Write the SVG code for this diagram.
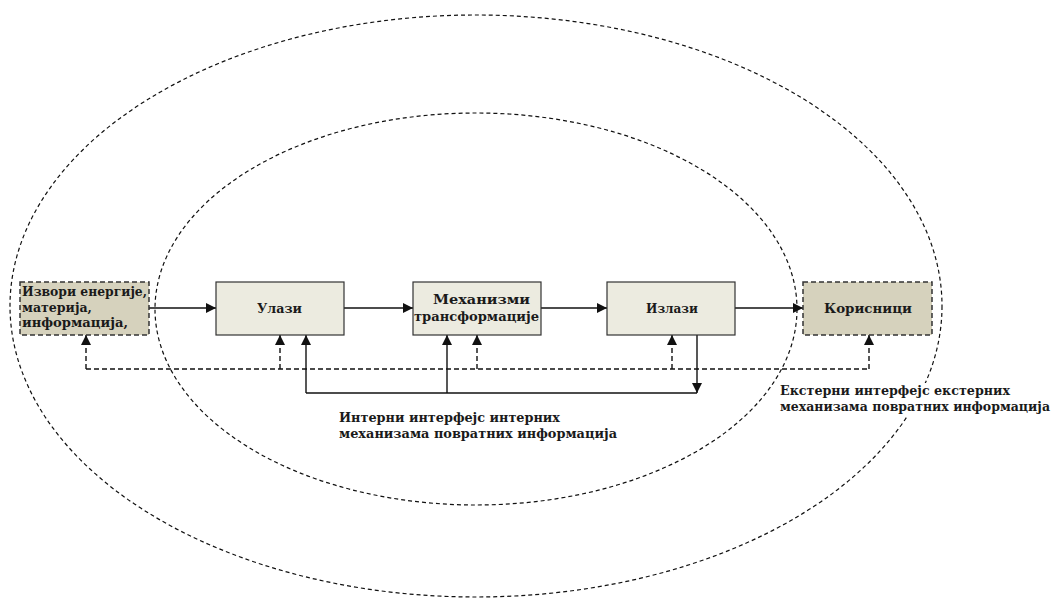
<svg xmlns="http://www.w3.org/2000/svg" width="1058" height="599" viewBox="0 0 1058 599">
  <style>
    .ring { fill: none; stroke: #111; stroke-width: 1.2; stroke-dasharray: 4 3; }
    .box { fill: #ecebe0; stroke: #333; stroke-width: 1.2; }
    .ext { fill: #d6d2bd; stroke: #333; stroke-width: 1.5; stroke-dasharray: 5 3; }
    .lbl { font-family: 'DejaVu Serif Condensed', 'DejaVu Serif', serif; font-weight: 700; font-size: 13.5px; fill: #1a1a1a; }
    .flow { fill: none; stroke: #111; stroke-width: 1.4; }
    .fb { fill: none; stroke: #111; stroke-width: 1.4; stroke-dasharray: 5 3; }
  </style>
  <defs>
    <marker id="head" viewBox="0 0 10 10" refX="10" refY="5" markerWidth="10" markerHeight="10" markerUnits="userSpaceOnUse" orient="auto">
      <path d="M0,0 L10,5 L0,10 z" fill="#111"/>
    </marker>
  </defs>
  <rect width="1058" height="599" fill="#fff"/>

  <!-- boundary rings: outer environment and inner system -->
  <ellipse class="ring" cx="476" cy="306" rx="466" ry="291"/>
  <ellipse class="ring" cx="476" cy="309" rx="321" ry="196"/>

  <!-- connectors -->
  <g id="connectors">
    <!-- main forward flow -->
    <line class="flow" x1="149" y1="308" x2="216" y2="308" marker-end="url(#head)"/>
    <line class="flow" x1="344" y1="308" x2="413" y2="308" marker-end="url(#head)"/>
    <line class="flow" x1="541" y1="308" x2="607" y2="308" marker-end="url(#head)"/>
    <line class="flow" x1="735" y1="308" x2="803" y2="308" marker-end="url(#head)"/>
    <!-- internal feedback loop -->
    <line class="flow" x1="697" y1="335" x2="697" y2="393" marker-end="url(#head)"/>
    <line class="flow" x1="306" y1="393" x2="697" y2="393"/>
    <line class="flow" x1="306" y1="393" x2="306" y2="335" marker-end="url(#head)"/>
    <line class="flow" x1="447" y1="393" x2="447" y2="335" marker-end="url(#head)"/>
    <!-- external feedback loop -->
    <line class="fb" x1="86" y1="369" x2="869" y2="369"/>
    <line class="fb" x1="86" y1="369" x2="86" y2="335" marker-end="url(#head)"/>
    <line class="fb" x1="280" y1="369" x2="280" y2="335" marker-end="url(#head)"/>
    <line class="fb" x1="477" y1="369" x2="477" y2="335" marker-end="url(#head)"/>
    <line class="fb" x1="672" y1="369" x2="672" y2="335" marker-end="url(#head)"/>
    <line class="fb" x1="869" y1="369" x2="869" y2="335" marker-end="url(#head)"/>
  </g>

  <g id="sources">
    <rect class="ext" x="20" y="282" width="129" height="53"/>
    <text class="lbl" x="22" y="296" textLength="125" lengthAdjust="spacingAndGlyphs">Извори енергије,</text>
    <text class="lbl" x="22" y="312" textLength="70" lengthAdjust="spacingAndGlyphs">материја,</text>
    <text class="lbl" x="22" y="327" textLength="106" lengthAdjust="spacingAndGlyphs">информација,</text>
  </g>

  <g id="inputs">
    <rect class="box" x="216" y="282" width="128" height="53"/>
    <text class="lbl" x="257" y="313" textLength="45" lengthAdjust="spacingAndGlyphs">Улази</text>
  </g>

  <g id="transformation">
    <rect class="box" x="413" y="282" width="128" height="53"/>
    <text class="lbl" x="433" y="304" textLength="97" lengthAdjust="spacingAndGlyphs">Механизми</text>
    <text class="lbl" x="414" y="321" textLength="125" lengthAdjust="spacingAndGlyphs">трансформације</text>
  </g>

  <g id="outputs">
    <rect class="box" x="607" y="282" width="128" height="53"/>
    <text class="lbl" x="646" y="313" textLength="52" lengthAdjust="spacingAndGlyphs">Излази</text>
  </g>

  <g id="users">
    <rect class="ext" x="803" y="282" width="129" height="53"/>
    <text class="lbl" x="824" y="313" textLength="88" lengthAdjust="spacingAndGlyphs">Корисници</text>
  </g>

  <g id="internal-interface">
    <text class="lbl" x="339" y="422" textLength="221" lengthAdjust="spacingAndGlyphs">Интерни интерфејс интерних</text>
    <text class="lbl" x="339" y="438" textLength="278" lengthAdjust="spacingAndGlyphs">механизама повратних информација</text>
  </g>

  <g id="external-interface">
    <!-- white backing keeps the outer ring from running through the label -->
    <rect x="778" y="383" width="276" height="33" fill="#fff"/>
    <text class="lbl" x="780" y="395" textLength="230" lengthAdjust="spacingAndGlyphs">Екстерни интерфејс екстерних</text>
    <text class="lbl" x="780" y="411" textLength="270" lengthAdjust="spacingAndGlyphs">механизама повратних информација</text>
  </g>
</svg>
